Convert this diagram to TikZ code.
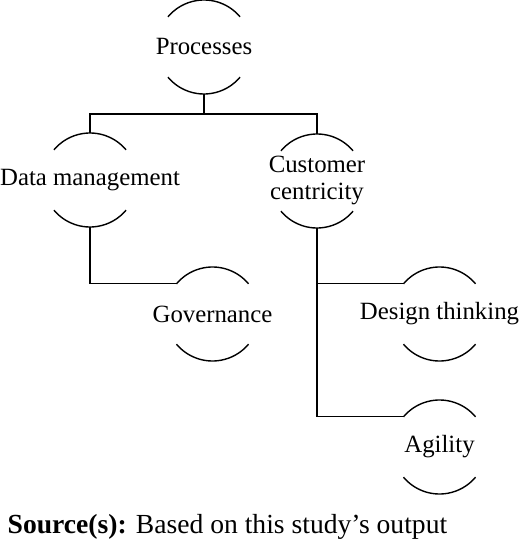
\documentclass[tikz,border=0pt]{standalone}
\usepackage{fontspec}
\setmainfont{Liberation Serif}
\begin{document}
\begin{tikzpicture}[x=0.5pt,y=0.5pt,line width=0.7pt,
    bubble/.style={circle, minimum size=47pt, inner sep=0pt, outer sep=0pt, font=\fontsize{12.4}{13.5}\selectfont}]
    \useasboundingbox (0,0) rectangle (520,-545);

    % Topics
    \node[bubble] (proc) at (204,-47) {\makebox[0pt]{Processes}};
    \node[bubble] (data) at (90,-180) {\makebox[0pt]{Data management}};
    \node[bubble] (cust) at (317,-181) {\makebox[0pt]{\begin{tabular}{@{}c@{}}Customer\\centricity\end{tabular}}};
    \node[bubble] (gov) at (212.5,-314) {\makebox[0pt]{Governance}};
    \node[bubble] (design) at (439.5,-314) {\makebox[0pt]{Design thinking}};
    \node[bubble] (agil) at (439.5,-447) {\makebox[0pt]{Agility}};

    % Arcs above and below each topic
    \foreach \n in {proc,data,cust,gov,design,agil} {
        \draw (\n.40) arc[start angle=40, end angle=140, radius=23.5pt];
        \draw (\n.220) arc[start angle=220, end angle=320, radius=23.5pt];
    }

    % Links
    \draw (proc.south) -- ++(0,-20) coordinate (fork);
    \draw (data.north) |- (fork) -| (cust.north);
    \draw (data.south) |- (gov.140);
    \draw (cust.south) |- (design.140);
    \draw (cust.south) |- (agil.140);

    % Source
    \node[anchor=base west, inner sep=0pt, font=\fontsize{13.8}{15}\selectfont] (src) at (7,-533)
        {\textbf{Source(s):} Based on this study’s output};
\end{tikzpicture}
\end{document}
